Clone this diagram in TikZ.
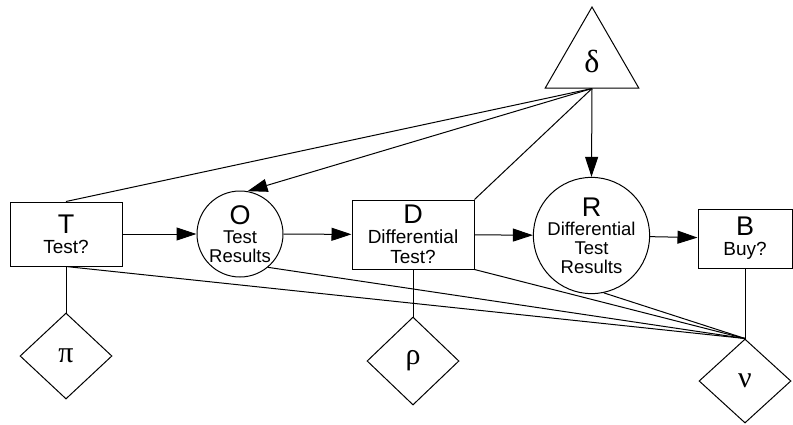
\documentclass[tikz,border=0pt]{standalone}
\usepackage{fontspec}
\setmainfont{Liberation Sans}
\newfontfamily\greekfont{Liberation Serif}
\usetikzlibrary{shapes.geometric,arrows.meta}

\tikzset{
  decision/.style={draw, rectangle, inner sep=0pt, align=center,
    font=\fontsize{19}{20}\selectfont},
  chance/.style={draw, circle, inner sep=0pt, align=center,
    font=\fontsize{18.5}{19}\selectfont},
  value/.style={draw, diamond, inner sep=0pt, minimum width=92pt,
    minimum height=86pt, font=\greekfont\fontsize{30}{30}\selectfont},
  prior/.style={draw, regular polygon, regular polygon sides=3, inner sep=0pt,
    minimum size=108pt, font=\greekfont\fontsize{32}{32}\selectfont}
}
\newcommand{\bigltr}[1]{{\fontsize{27}{26}\selectfont #1}}

\begin{document}
\begin{tikzpicture}[x=1pt, y=-1pt, line width=1pt,
    >={Triangle[length=20pt,width=13pt]}]
  \useasboundingbox (0,0) rectangle (793,424);

  % decisions and chance nodes
  \node[decision, minimum width=112pt, minimum height=64pt] (test) at (66,234)
       {\bigltr{T}\\Test?};
  \node[chance, minimum size=86pt] (obs) at (240,234)
       {\bigltr{O}\\Test\\Results};
  \node[decision, minimum width=122pt, minimum height=69pt] (diff) at (413,234.5)
       {\bigltr{D}\\Differential\\Test?};
  \node[chance, minimum size=104pt] (res) at (591.5,235.5)
       {\bigltr{R}\\Differential\\Test\\Results};
  \node[decision, minimum width=94pt, minimum height=59pt] (buy) at (745,238.5)
       {\bigltr{B}\\Buy?};

  % parameters and values
  \node[prior] (delta) at (592,61) {δ};
  \node[value] (pi) at (66,356) {π};
  \node[value, minimum height=88pt] (rho) at (413,361) {ρ};
  \node[value, minimum height=84pt] (nu) at (745,381) {ν};

  \draw[->] (test) -- (obs);
  \draw[->] (obs) -- (diff);
  \draw[->] (diff) -- (res);
  \draw[->] (res) -- (buy);

  \draw[->] (delta.south) -- (obs.80);
  \draw[->] (delta.south) -- (res.north);
  \draw (delta.south) -- (test.north);
  \draw (delta.south) -- (diff.north east);

  \draw (test.south) -- (pi.north);
  \draw (diff.south) -- (rho.north);
  \draw (buy.south) -- (nu.north);

  \draw (test.south) -- (nu.north);
  \draw (obs.-50) -- (nu.north);
  \draw (diff.south east) -- (nu.north);
  \draw (res.-78) -- (nu.north);
\end{tikzpicture}
\end{document}
